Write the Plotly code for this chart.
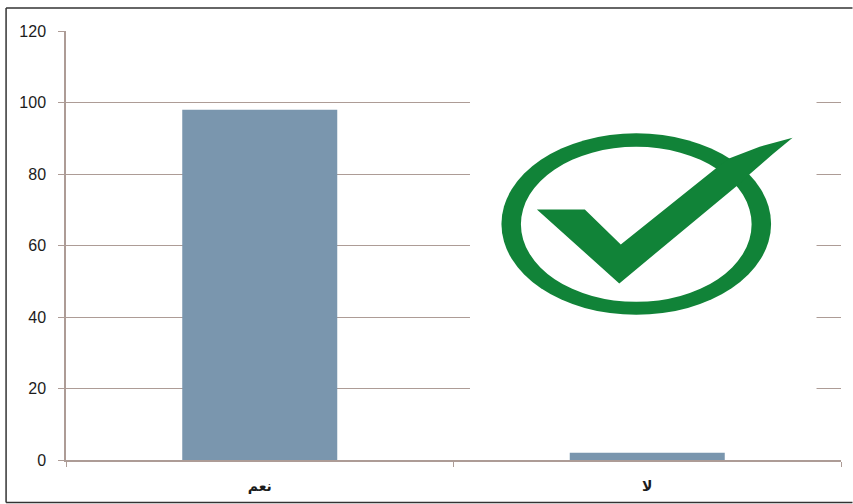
import plotly.graph_objects as go

categories = ["نعم", "لا"]
values = [98, 2]
y_ticks = [0, 20, 40, 60, 80, 100, 120]

W, H = 853, 504
L, R, T, B = 65.5, 841.5, 30.5, 460.5
GRID = "#ad9c96"
GREEN = "#118338"
INK = "#1c1c1c"


def px(x):
    return (x - L) / (R - L)


def py(y):
    return (B - y) / (B - T)


def ellipse(x0, y0, x1, y1, color):
    return dict(type="circle", xref="paper", yref="paper", x0=px(x0), x1=px(x1),
                y0=py(y1), y1=py(y0), fillcolor=color, line_width=0, layer="above")


def polygon(points, color):
    d = "M " + " L ".join(f"{px(a):.5f},{py(b):.5f}" for a, b in points) + " Z"
    return dict(type="path", xref="paper", yref="paper", path=d, fillcolor=color,
                line_width=0, layer="above")


def frame(x0, y0, x1, y1):
    return dict(type="line", xref="paper", yref="paper", x0=px(x0), x1=px(x1),
                y0=py(y0), y1=py(y1), line=dict(color="#333333", width=1.5), layer="above")


check_outline = [(537, 209.5), (585, 209.5), (621, 244.5), (717, 167.5), (730, 158),
                 (760, 146.5), (793, 137.5), (773, 154), (750, 174),
                 (738, 185), (619.5, 283.5)]

shapes = [
    dict(type="rect", xref="paper", yref="paper", x0=px(470), x1=px(817), y0=py(395), y1=py(92),
         fillcolor="#ffffff", line_width=0, layer="above"),
    ellipse(501.5, 133, 771.5, 315, GREEN),
    ellipse(521, 146.5, 752, 302, "#ffffff"),
    polygon(check_outline, GREEN),
    frame(5.5, 7.5, 853, 7.5),
    frame(5.5, 7.5, 5.5, 503),
    frame(5.5, 503, 853, 503),
]

fig = go.Figure(go.Bar(x=categories, y=values, marker=dict(color="#7a96ae", line_width=0),
                       width=0.4))
fig.update_layout(
    width=W, height=H, autosize=False,
    margin=dict(l=L, r=W - R, t=T, b=H - B, pad=0),
    paper_bgcolor="#ffffff", plot_bgcolor="#ffffff",
    showlegend=False, shapes=shapes,
)
fig.update_xaxes(
    type="category", tickson="boundaries", ticks="outside", ticklen=5, tickcolor=GRID,
    showline=True, linecolor=GRID, linewidth=1.5, showgrid=False, zeroline=False,
    ticklabelstandoff=12, tickfont=dict(family="DejaVu Sans", size=14, color=INK, weight="bold"),
)
fig.update_yaxes(
    range=[0, 120], tickvals=y_ticks, ticks="outside", ticklen=6, tickcolor=GRID,
    showline=True, linecolor=GRID, linewidth=1.5, showgrid=True, gridcolor=GRID, gridwidth=1.3,
    zeroline=False, ticklabelstandoff=9,
    tickfont=dict(family="Liberation Sans", size=16, color=INK),
)
fig.write_html(
    "out.html",
    config={"displayModeBar": False},
    post_script="document.body.style.margin='0';document.documentElement.style.overflow='hidden';",
)
